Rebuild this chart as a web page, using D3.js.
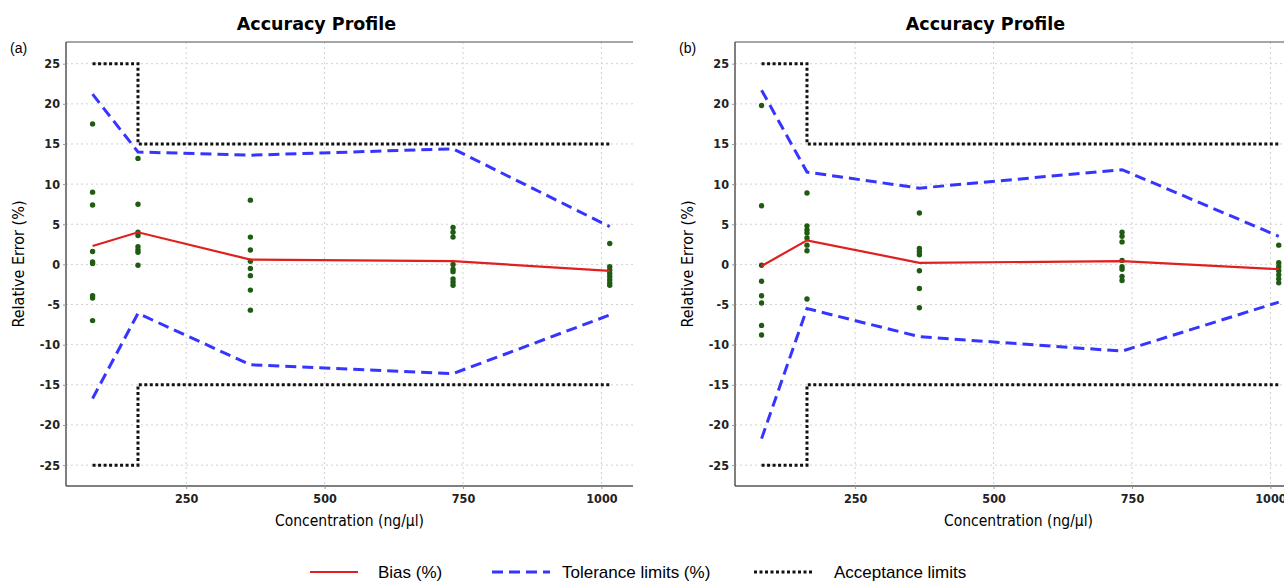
<!DOCTYPE html>
<html>
<head>
<meta charset="utf-8">
<script src="https://cdn.jsdelivr.net/npm/d3@7"></script>
<style>
  body { margin: 0; background: #fff; }
  svg { display: block; }
</style>
</head>
<body>
<div id="chart"></div>
<script>
// concentration levels (ng/ul)
var conc = [81, 163, 366, 732, 1015];

// panel (a)
var biasA = [2.3, 4.0, 0.6, 0.4, -0.8];
var tolUpA = [21.2, 14.0, 13.6, 14.4, 4.7];
var tolLoA = [-16.7, -6.1, -12.5, -13.6, -6.3];
var ptsA = [
  [17.5, 9.0, 7.4, 1.6, 0.3, 0.1, -3.9, -4.2, -7.0],
  [13.2, 7.5, 4.0, 3.6, 2.2, 1.8, 1.5, -0.1],
  [8.0, 3.4, 1.8, 0.4, -0.5, -1.4, -3.2, -5.7],
  [4.6, 4.0, 3.4, 0.0, -0.6, -0.9, -1.8, -2.2, -2.6],
  [2.6, -0.3, -0.7, -1.1, -1.5, -1.9, -2.3, -2.6]
];

// panel (b)
var biasB = [-0.2, 3.0, 0.2, 0.4, -0.6];
var tolUpB = [21.7, 11.5, 9.5, 11.8, 3.5];
var tolLoB = [-21.7, -5.5, -9.0, -10.8, -4.7];
var ptsB = [
  [19.8, 7.3, -0.1, -2.1, -3.9, -4.8, -7.6, -8.8],
  [8.9, 4.8, 4.3, 3.9, 3.3, 2.4, 1.7, -4.3],
  [6.4, 2.0, 1.6, 1.2, -0.8, -3.0, -5.4],
  [4.0, 3.5, 2.8, 0.5, -0.3, -0.6, -1.5, -2.0],
  [2.4, 0.2, -0.3, -0.8, -1.3, -1.8, -2.3]
];

// acceptance limits (step after each level)
var accUp = [25, 15, 15, 15, 15];
var accLo = [-25, -15, -15, -15, -15];

var xTicks = [250, 500, 750, 1000];
var yTicks = [-25, -20, -15, -10, -5, 0, 5, 10, 15, 20, 25];

var width = 1284, height = 581;
var condensed = "'DejaVu Sans Condensed', 'DejaVu Sans', sans-serif";

var svg = d3.select("#chart").append("svg")
  .attr("width", width)
  .attr("height", height);

function drawPanel(left, tag, bias, tolUp, tolLo, pts) {
  var top = 42, bottom = 486, right = left + 567;

  var x = d3.scaleLinear().domain([33, 1057]).range([left, right]);
  var y = d3.scaleLinear().domain([-27.6, 27.7]).range([bottom, top]);

  var g = svg.append("g");

  // grid
  g.selectAll(".hgrid").data(yTicks).enter().append("line")
    .attr("x1", left).attr("x2", right)
    .attr("y1", function(d) { return y(d); })
    .attr("y2", function(d) { return y(d); })
    .attr("stroke", "#d0d0d0").attr("stroke-width", 1)
    .attr("stroke-dasharray", "2,3");
  g.selectAll(".vgrid").data(xTicks).enter().append("line")
    .attr("y1", top).attr("y2", bottom)
    .attr("x1", function(d) { return x(d); })
    .attr("x2", function(d) { return x(d); })
    .attr("stroke", "#d0d0d0").attr("stroke-width", 1)
    .attr("stroke-dasharray", "2,3");

  // top border
  g.append("line")
    .attr("x1", left).attr("x2", right)
    .attr("y1", top).attr("y2", top)
    .attr("stroke", "#888").attr("stroke-width", 1.5);

  var plain = function(d) { return String(d); };

  // axes
  var yAxis = g.append("g")
    .attr("transform", "translate(" + left + ",0)")
    .call(d3.axisLeft(y).tickValues(yTicks).tickFormat(plain).tickSize(3).tickPadding(3));
  var xAxis = g.append("g")
    .attr("transform", "translate(0," + bottom + ")")
    .call(d3.axisBottom(x).tickValues(xTicks).tickFormat(plain).tickSize(3).tickPadding(5));

  [yAxis, xAxis].forEach(function(a) {
    a.select(".domain").attr("stroke", "#555").attr("stroke-width", 1.5)
      .attr("d", a === yAxis
        ? "M0," + top + "V" + bottom
        : "M" + left + ",0H" + right);
    a.selectAll(".tick line").attr("stroke", "#999");
    a.selectAll("text")
      .attr("fill", "#222")
      .style("font-family", condensed)
      .style("font-weight", "bold")
      .style("font-size", "12.5px");
  });

  var clipId = "clip" + tag;
  svg.append("clipPath").attr("id", clipId)
    .append("rect").attr("x", left).attr("y", top)
    .attr("width", right - left).attr("height", bottom - top);

  var plot = g.append("g").attr("clip-path", "url(#" + clipId + ")");

  var line = d3.line()
    .x(function(d, i) { return x(conc[i]); })
    .y(function(d) { return y(d); });
  var stepLine = d3.line()
    .x(function(d, i) { return x(conc[i]); })
    .y(function(d) { return y(d); })
    .curve(d3.curveStepAfter);

  // acceptance limits
  [accUp, accLo].forEach(function(arr) {
    plot.append("path").datum(arr)
      .attr("d", stepLine)
      .attr("fill", "none").attr("stroke", "#111")
      .attr("stroke-width", 3).attr("stroke-dasharray", "3,2.5");
  });

  // tolerance limits
  [tolUp, tolLo].forEach(function(arr) {
    plot.append("path").datum(arr)
      .attr("d", line)
      .attr("fill", "none").attr("stroke", "#3535ff")
      .attr("stroke-width", 3).attr("stroke-dasharray", "11,6");
  });

  // points
  var flat = [];
  pts.forEach(function(col, i) {
    col.forEach(function(v) { flat.push({c: conc[i], v: v}); });
  });
  plot.selectAll(".pt").data(flat).enter().append("circle")
    .attr("cx", function(d) { return x(d.c); })
    .attr("cy", function(d) { return y(d.v); })
    .attr("r", 2.7)
    .attr("fill", "#1f5c12");

  // bias
  plot.append("path").datum(bias)
    .attr("d", line)
    .attr("fill", "none").attr("stroke", "#e02020")
    .attr("stroke-width", 2.2);

  // titles and labels
  svg.append("text")
    .attr("x", (left - 66 + right) / 2).attr("y", 30)
    .attr("text-anchor", "middle")
    .style("font-family", "'DejaVu Sans', sans-serif")
    .style("font-weight", "bold").style("font-size", "17.5px")
    .text("Accuracy Profile");

  svg.append("text")
    .attr("x", left - 56).attr("y", 53)
    .style("font-family", "'Liberation Sans', Arial, sans-serif")
    .style("font-size", "14px")
    .text("(" + tag + ")");

  svg.append("text")
    .attr("transform", "translate(" + (left - 42) + "," + ((top + bottom) / 2) + ") rotate(-90)")
    .attr("text-anchor", "middle")
    .style("font-family", condensed)
    .style("font-size", "16px")
    .text("Relative Error (%)");

  svg.append("text")
    .attr("x", (left + right) / 2).attr("y", 526)
    .attr("text-anchor", "middle")
    .style("font-family", condensed)
    .style("font-size", "15.5px")
    .text("Concentration (ng/\u00b5l)");
}

drawPanel(66, "a", biasA, tolUpA, tolLoA, ptsA);
drawPanel(735, "b", biasB, tolUpB, tolLoB, ptsB);

// legend
var legend = [
  {label: "Bias (%)", color: "#e02020", dash: null, w: 2.2, x1: 310, x2: 358, tx: 378},
  {label: "Tolerance limits (%)", color: "#3535ff", dash: "11,6", w: 3, x1: 492, x2: 550, tx: 562},
  {label: "Acceptance limits", color: "#111", dash: "3,2.5", w: 3, x1: 754, x2: 813, tx: 834}
];
var lg = svg.append("g");
legend.forEach(function(d) {
  lg.append("line")
    .attr("x1", d.x1).attr("x2", d.x2).attr("y1", 572).attr("y2", 572)
    .attr("stroke", d.color).attr("stroke-width", d.w)
    .attr("stroke-dasharray", d.dash);
  lg.append("text")
    .attr("x", d.tx).attr("y", 578)
    .style("font-family", "'Liberation Sans', Arial, sans-serif")
    .style("font-size", "17px")
    .text(d.label);
});
</script>
</body>
</html>
